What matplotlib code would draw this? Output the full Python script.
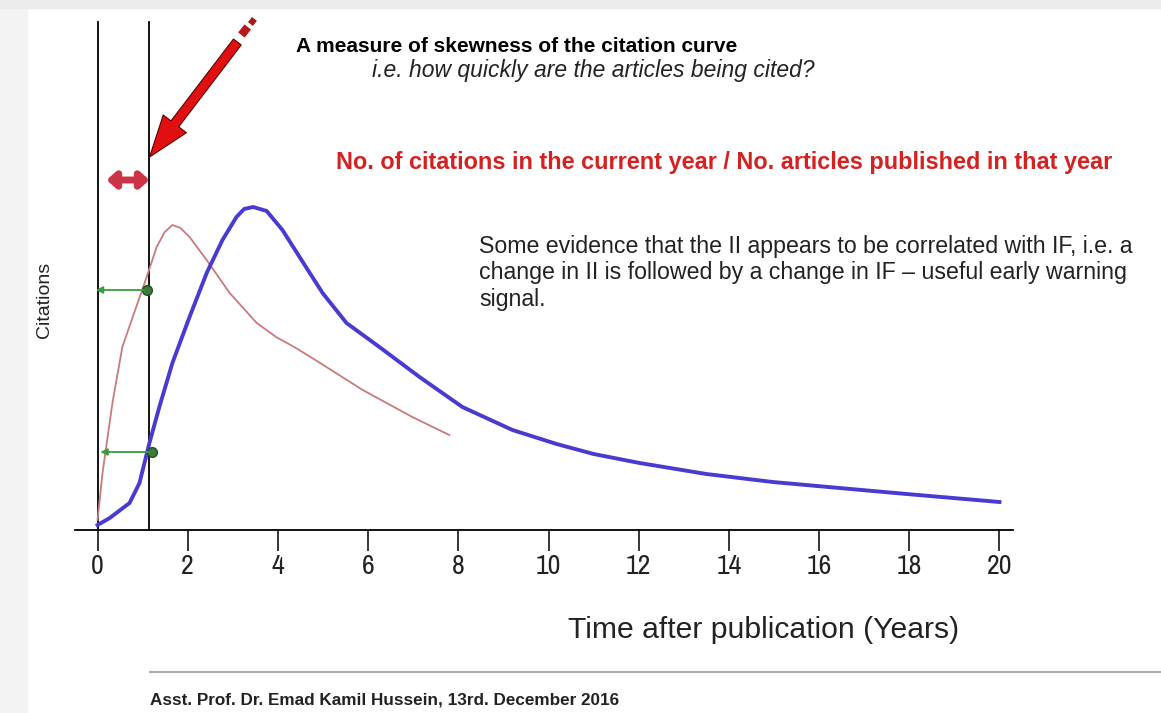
import numpy as np
import matplotlib.pyplot as plt
from matplotlib import font_manager
from matplotlib.font_manager import FontProperties
from matplotlib.patches import Rectangle
from matplotlib.lines import Line2D

# curves (years, citations in arbitrary units)
blue_x = [0, 0.27, 0.71, 0.93, 1.15, 1.37, 1.66, 2.04, 2.42, 2.77, 3.08, 3.25, 3.45, 3.75, 4.10, 4.48,
          4.99, 5.52, 6.25, 7.14, 8.09, 9.20, 10.18, 11.0, 12.02, 13.50, 14.97, 16.45, 17.94, 20]
blue_y = [5, 12, 27, 47, 87, 123, 167, 213, 257, 290, 313, 321, 323, 319, 300, 273,
          237, 207, 183, 153, 123, 100, 86, 76, 67, 56, 48, 42, 36, 28]
red_x = [0, 0.11, 0.33, 0.55, 0.78, 1.09, 1.31, 1.49, 1.66, 1.84, 2.04, 2.42, 2.93, 3.53,
         3.96, 4.40, 4.90, 5.88, 6.98, 7.80]
red_y = [10, 57, 127, 183, 213, 253, 283, 298, 305, 302, 293, 270, 237, 207,
         193, 182, 168, 140, 113, 95]
green_pts_x = [1.09, 1.2]
green_pts_y = [240, 78]
green_end_x = [-0.1, 0.0]
x_ticks = list(range(0, 21, 2))
marker_lines = [0, 1.15]

W, H = 1161, 713
fig = plt.figure(figsize=(W / 100, H / 100), dpi=100)
fig.patches.append(Rectangle((0, 0), 27 / W, 1, transform=fig.transFigure,
                             color='#f3f3f3', zorder=0))
fig.patches.append(Rectangle((0, 1 - 8 / H), 1, 8 / H, transform=fig.transFigure,
                             color='#ebebeb', zorder=0))

flist = font_manager.fontManager.ttflist
names = {f.name for f in flist}
sans = 'Liberation Sans' if 'Liberation Sans' in names else 'DejaVu Sans'
narrow_files = [f.fname for f in flist if 'Narrow' in f.name and f.weight in (400, 'normal')
                and f.style == 'normal']
cond_files = [f.fname for f in flist if f.name == 'DejaVu Sans' and f.stretch == 'condensed'
              and f.weight in (400, 'normal') and f.style == 'normal']
if narrow_files:
    tick_font = FontProperties(fname=narrow_files[0], size=20)
elif cond_files:
    tick_font = FontProperties(fname=cond_files[0], size=16)
else:
    tick_font = FontProperties(family=sans, size=16)

ax = fig.add_axes([75 / W, 1 - 530 / H, 938 / W, 508 / H])
ax.set_xlim(-0.5, 20.3)
ax.set_ylim(0, 508)
for s in ['top', 'right', 'left']:
    ax.spines[s].set_visible(False)
ax.spines['bottom'].set_linewidth(1.3)
ax.set_yticks([])
ax.set_xticks(x_ticks)
ax.set_xticklabels([str(t) for t in x_ticks], fontproperties=tick_font, color='#222222')
ax.tick_params(axis='x', length=15, width=1.1, pad=2)

for xv in marker_lines:
    ax.axvline(xv, color='black', lw=1.3, clip_on=False)

ax.plot(red_x, red_y, color='#c97a7a', lw=1.3, solid_joinstyle='round')
ax.plot(blue_x, blue_y, color='#4a3bd0', lw=2.8, solid_joinstyle='round')

for px, py, ex in zip(green_pts_x, green_pts_y, green_end_x):
    ax.annotate('', xy=(ex, py), xytext=(px, py),
                arrowprops=dict(arrowstyle='-|>,head_length=0.4,head_width=0.2',
                                color='#3e9a3e', lw=1.3))
    ax.plot(px, py, 'o', color='#3a7a3a', mec='#1f4f1f', ms=7)

# double arrow between the two lines
ax.annotate('', xy=(0.2, 350), xytext=(1.15, 350),
            arrowprops=dict(arrowstyle='<|-|>,head_length=0.5,head_width=0.45',
                            color='#cc3344', lw=5, shrinkA=0, shrinkB=0))

# big red arrow pointing at the second line
ax.annotate('', xy=(1.153, 373), xytext=(3.10, 488),
            arrowprops=dict(arrowstyle='simple,head_length=3.0,head_width=2.1,tail_width=0.7',
                            mutation_scale=10, fc='#e01010', ec='#5a0000', lw=0.8,
                            shrinkA=0, shrinkB=0))
ax.plot([3.19, 3.33], [495, 503], color='#b81818', lw=6, solid_capstyle='butt', clip_on=False)
ax.plot([3.39, 3.48], [506, 511], color='#a81818', lw=4.5, solid_capstyle='butt', clip_on=False)

def ftext(x, y, s, **kw):
    kw.setdefault('family', sans)
    fig.text(x / W, 1 - y / H, s, va='center', **kw)

ftext(296, 47, 'A measure of skewness of the citation curve', fontsize=15, fontweight='bold')
ftext(372, 71, 'i.e. how quickly are the articles being cited?', fontsize=16.5, style='italic',
      color='#222222')
ftext(336, 163, 'No. of citations in the current year / No. articles published in that year',
      fontsize=16.9, fontweight='bold', color='#d42222')
ftext(479, 273, 'Some evidence that the II appears to be correlated with IF, i.e. a\n'
      'change in II is followed by a change in IF \u2013 useful early warning\nsignal.',
      fontsize=16.7, color='#222222', linespacing=1.17)
ftext(45, 300, 'Citations', fontsize=14, rotation=90, ha='center', color='#222222')
ftext(568, 630, 'Time after publication (Years)', fontsize=21.7, color='#222222')
ftext(150, 700, 'Asst. Prof. Dr. Emad Kamil Hussein, 13rd. December 2016', fontsize=12.3,
      fontweight='bold', color='#222222')

fig.lines.append(Line2D([150 / W, 1], [1 - 672 / H, 1 - 672 / H], transform=fig.transFigure,
                        color='#b0b0b0', lw=1.5))

fig.savefig('out.png', dpi=100)
